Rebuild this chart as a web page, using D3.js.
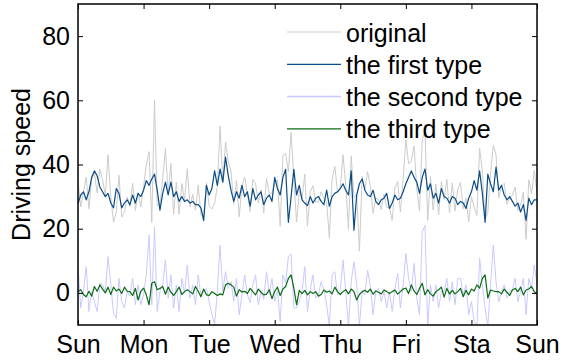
<!DOCTYPE html>
<html>
<head>
<meta charset="utf-8">
<script src="https://cdn.jsdelivr.net/npm/d3@7"></script>
<style>
  html, body { margin: 0; padding: 0; background: #fff; }
  svg { display: block; font-family: "Liberation Sans", Arial, Helvetica, sans-serif; }
</style>
</head>
<body>
<svg id="chart" width="563" height="360"></svg>
<script>
// Hourly driving speed over one week, split into three components.
const dayLabels = ["Sun", "Mon", "Tue", "Wed", "Thu", "Fri", "Sta", "Sun"];
const yTicks = [0, 20, 40, 60, 80];
const seriesNames = ["original", "the first type", "the second type", "the third type"];

const original = [
  35, 26.8, 31.4, 36, 26.2, 35.4, 37.3, 31.2, 38.5, 35.2, 30.4, 43,
  30, 22, 25.2, 36.7, 23.6, 25.1, 29.9, 26.9, 34.2, 25.7, 31.3, 26.8,
  32.9, 40, 44, 22, 60, 27.2, 27.6, 35.5, 45, 30.7, 40.3, 24.5,
  34.4, 24.5, 34, 28.9, 38.7, 26.8, 30.7, 25.8, 33.6, 24.3, 24.1, 34.3,
  27, 26.1, 27.9, 33.1, 52, 34.3, 47, 40.9, 38, 27.6, 35, 23.7,
  33.2, 36.1, 30.7, 25.4, 35.4, 34, 28, 32.1, 24.9, 35.7, 30.9, 31.2,
  33.8, 35.3, 20.8, 42.8, 43.5, 37.8, 50, 35.3, 22.1, 31.6, 29.2, 37,
  20.8, 31.4, 33.4, 28.3, 28.4, 31.5, 29.4, 28.5, 17.2, 35.3, 39.4, 31.3,
  33, 43, 33.4, 19.8, 42.7, 29.6, 30.8, 13, 36.3, 32.2, 37.8, 33.2,
  24.8, 29.5, 29.1, 26, 30.8, 26.7, 26.5, 22.6, 32.8, 34.7, 25.2, 35.2,
  47.8, 40.3, 40.9, 45.8, 32.4, 25.6, 48, 50, 22.6, 36.2, 25.8, 33.9,
  24.3, 34.7, 29.1, 35.4, 25, 34.3, 25.5, 32.4, 34.4, 26.2, 29.6, 22.1,
  30, 26.7, 24.1, 45, 38, 22.9, 25, 37.4, 46, 43.1, 29.7, 33.2,
  34.2, 27.6, 29.6, 30.4, 32.9, 25.7, 27.4, 31.4, 16.7, 35.2, 30.9, 38.1,
  31.2
];

const firstType = [
  27.8, 30.5, 31.5, 29, 31.5, 36, 38, 36.5, 33, 31.5, 30, 31,
  28, 26.5, 32.5, 31, 26.5, 28, 29, 27.5, 30.5, 28, 31, 30,
  32, 35, 33.5, 35.5, 37, 32, 25.8, 31, 34.5, 30.5, 34.5, 30,
  31.5, 28.5, 30, 28.5, 29, 28, 28.5, 27.5, 27.5, 26.5, 22.5, 33.5,
  30.5, 32.5, 38, 33.5, 38.6, 34.5, 42.3, 36.5, 32, 28.5, 31.5, 29.5,
  33.5, 30, 31.5, 27, 32.5, 29, 30.5, 31.5, 27.5, 29.5, 30.5, 28.5,
  36, 32.5, 30.5, 36, 38.5, 22, 30, 38.5, 30.5, 33.5, 29, 28,
  27.2, 30, 28, 29.5, 30, 28.5, 27.5, 32, 27, 30, 31, 31.5,
  32.5, 34, 32, 30.5, 38, 19.5, 30.5, 34, 35.5, 32, 30.5, 30,
  32, 28.5, 27.5, 29, 29.5, 31, 26.3, 28, 30.5, 29, 29.5, 31.5,
  34, 36, 38, 36, 34.5, 31, 36, 38.6, 32, 34, 29.5, 31,
  28, 32.5, 30, 29.5, 28, 30, 29.5, 27.5, 28.5, 28, 26.3, 29.5,
  31.5, 35, 32, 38, 31, 22, 37, 34, 31.5, 39.2, 32, 33.5,
  30.5, 29, 30, 28.5, 27, 28, 25.2, 27.5, 22.6, 29.5, 27.5, 29,
  29
];

const secondType = [
  8.5, -4.7, 0.4, 8.2, -5.8, 0.4, -2.7, -5.8, 3, 2.5, 0.4, 11.3,
  2.5, -6.3, -7.9, 4.5, -2.7, -4.7, 0.4, -1, 4.5, -3.7, 2.5, -3.7,
  -0.6, 5.6, 18, -3.7, 20.6, -5.8, 0.4, 2.5, 10.2, -1.6, 5.6, -4.7,
  2.5, -5.8, 4.5, 0, 8.7, -1.6, 2.5, -3.7, 5.6, -1, 0.4, 1.4,
  -2.7, -6.8, -9.9, 0.4, 14.9, 0.4, 6.6, 1.4, 3.5, -2.7, 4.5, -6.8,
  -0.6, 5.6, -0.6, -3, 2.5, 5.6, -3.7, 0.4, -2, 6.6, -0.6, 4.5,
  -2.7, 1, -8.9, 5.6, 3, 11.3, 12, -4.7, -4.7, -2.7, 0.4, 8.2,
  -5.8, 1, 5.6, -1.6, -0.6, 3.5, 1, -3.7, -10.4, 5.6, 6.6, -0.6,
  1, 10.2, 0.4, -10.4, 3.5, 9.7, 2.5, -10.4, 0.4, -0.6, 7.1, 2,
  -6.8, 0.4, 1.4, -2.7, 0.4, -4.7, 0.4, -5.8, 1.4, 6.1, -4.7, 2.5,
  12.3, 4.5, 0.4, 9.2, -1.6, -6.8, 19, 21, -10.4, 2.5, -2.7, 2.5,
  -4.7, 0.4, 0.4, 4.5, -2.7, 3.5, -3.7, 4.5, 4.5, -0.6, 2.5, -6.8,
  -2.7, -8.9, -10.4, 10.8, 2.5, -4.7, -10.4, 2.5, 14.9, 3.5, -2.7, 0,
  2.5, -1.6, 0.4, 1, 4.5, -2.7, 0.4, 4.5, -6.8, 4.5, 1.4, 8.7,
  2.5
];

const thirdType = [
  0.4, 1, -0.5, -1.2, 0.5, -1, 2, 0.5, 2.5, 1.2, 0, 1.8,
  -0.5, 1.8, 0.6, 1.2, -0.2, 1.8, 0.5, 0.4, -0.8, 1.4, -2.2, 0.5,
  1.5, -0.6, -3.7, 3, 3.5, 1, 1.4, 2, -0.4, 1.8, 0.2, -0.8,
  0.4, 1.8, -0.5, 0.4, 1, 0.4, -0.3, 2, 0.5, -1.2, 1.2, -0.6,
  -0.8, 0.4, -0.2, -0.8, -0.3, -0.6, 2.5, 3, 2.5, 1.8, -1, 1,
  0.3, 0.5, -0.2, 1.4, 0.4, -0.6, 1.2, 0.2, -0.6, -0.4, 1, -1.8,
  0.5, 1.8, -0.8, 1.2, 2, 4.5, 5.6, 1.5, -3.7, 0.8, -0.2, 0.8,
  -0.6, 0.4, -0.2, 0.4, -1, -0.5, 0.9, 0.2, 0.6, -0.3, 1.8, 0.4,
  -0.5, 0.4, 1, -0.3, 1.2, 0.4, -2.2, -0.5, 0.4, 0.8, 0.2, 1.2,
  -0.4, 0.6, 0.2, -0.3, 0.9, 0.4, -0.2, 0.4, 0.9, -0.4, 0.4, 1.2,
  1.5, -0.2, 2.5, 0.6, -0.5, 1.4, 3, -0.6, 1, -0.3, -1, 0.4,
  1, 1.8, -1.3, 1.4, -0.3, 0.8, -0.3, 0.4, 1.4, -1.2, 0.8, -0.6,
  1.2, 0.6, 2.5, 1.5, 4.5, 5.6, -1.6, 0.9, 0.6, 0.4, 0.4, -0.3,
  1.2, 0.2, -0.8, 0.9, 1.4, 0.4, 1.8, -0.6, 0.9, 1.2, 2, 0.4,
  -0.3
];

const seriesData = [original, firstType, secondType, thirdType];
const seriesColors = ["#cccccc", "#0b4c86", "#c9c9ff", "#0a6b12"];
const seriesWidths = [1, 1.2, 1, 1.2];

(function draw() {
  const svg = d3.select("#chart");
  const plotLeft = 78, plotRight = 537, plotTop = 4, plotBottom = 325;
  const hoursPerDay = 24;
  const tickLen = 5;
  const fontSize = 25;

  const x = d3.scaleLinear().domain([0, 7 * hoursPerDay]).range([plotLeft, plotRight]);
  const y = d3.scaleLinear().domain([-10, 90]).range([plotBottom, plotTop]);

  svg.append("clipPath").attr("id", "plot-clip")
    .append("rect")
    .attr("x", plotLeft).attr("y", plotTop)
    .attr("width", plotRight - plotLeft).attr("height", plotBottom - plotTop);

  const line = d3.line()
    .x((d, i) => x(i))
    .y(d => y(d));

  const plot = svg.append("g").attr("clip-path", "url(#plot-clip)");
  seriesData.forEach((values, k) => {
    plot.append("path")
      .datum(values)
      .attr("fill", "none")
      .attr("stroke", seriesColors[k])
      .attr("stroke-width", seriesWidths[k])
      .attr("stroke-linejoin", "round")
      .attr("d", line);
  });

  // Axes: ticks point inward, box on all four sides
  const xTickValues = dayLabels.map((_, i) => i * hoursPerDay);

  const axisStyle = g => {
    g.select(".domain").remove();
    g.selectAll(".tick line").attr("stroke", "#000").attr("stroke-width", 1);
  };
  const labelStyle = g => g.selectAll("text")
    .attr("font-size", fontSize).attr("fill", "#000")
    .attr("font-family", "Liberation Sans, Arial, sans-serif");

  svg.append("g")
    .attr("transform", `translate(0,${plotBottom})`)
    .call(d3.axisBottom(x).tickValues(xTickValues)
      .tickFormat((d, i) => dayLabels[i])
      .tickSizeInner(-tickLen).tickPadding(10))
    .call(axisStyle)
    .call(labelStyle);

  svg.append("g")
    .attr("transform", `translate(0,${plotTop})`)
    .call(d3.axisTop(x).tickValues(xTickValues).tickFormat("").tickSizeInner(-tickLen))
    .call(axisStyle);

  svg.append("g")
    .attr("transform", `translate(${plotLeft},0)`)
    .call(d3.axisLeft(y).tickValues(yTicks).tickSizeInner(-tickLen))
    .call(axisStyle)
    .call(labelStyle)
    .call(g => g.selectAll("text").attr("x", -8));

  svg.append("g")
    .attr("transform", `translate(${plotRight},0)`)
    .call(d3.axisRight(y).tickValues(yTicks).tickFormat("").tickSizeInner(-tickLen))
    .call(axisStyle);

  svg.append("rect")
    .attr("x", plotLeft).attr("y", plotTop)
    .attr("width", plotRight - plotLeft).attr("height", plotBottom - plotTop)
    .attr("fill", "none").attr("stroke", "#000").attr("stroke-width", 1.5);

  // Y axis title
  svg.append("text")
    .attr("transform", `translate(30,${(plotTop + plotBottom) / 2}) rotate(-90)`)
    .attr("text-anchor", "middle")
    .attr("font-size", fontSize)
    .attr("fill", "#000")
    .text("Driving speed");

  // Legend (no frame)
  const legend = svg.append("g").attr("transform", "translate(287,32)");
  seriesNames.forEach((name, k) => {
    const row = legend.append("g").attr("transform", `translate(0,${k * 32.3})`);
    row.append("line")
      .attr("x1", 0).attr("x2", 54).attr("y1", 0).attr("y2", 0)
      .attr("stroke", seriesColors[k]).attr("stroke-width", k === 2 ? 1.5 : 1.2);
    row.append("text")
      .attr("x", 59).attr("y", 9.5)
      .attr("font-size", fontSize)
      .attr("fill", "#000")
      .text(name);
  });
})();
</script>
</body>
</html>
